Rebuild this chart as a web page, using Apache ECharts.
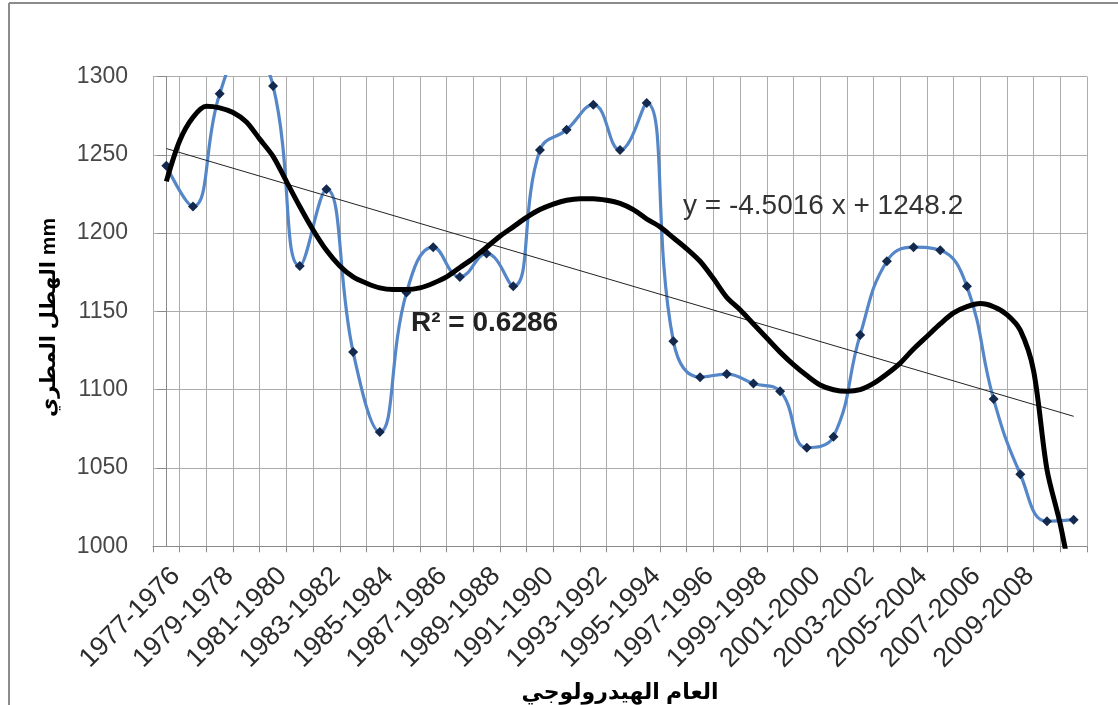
<!DOCTYPE html>
<html>
<head>
<meta charset="utf-8">
<script src="https://cdn.jsdelivr.net/npm/echarts@6/dist/echarts.min.js"></script>
<style>
  html, body { margin: 0; padding: 0; background: #ffffff; }
  #chart { width: 1118px; height: 705px; }
</style>
</head>
<body>
<div id="chart"></div>
<script>
// Hydrological years (x categories)
const categories = [
  '1977-1976', '1978-1977', '1979-1978', '1980-1979', '1981-1980',
  '1982-1981', '1983-1982', '1984-1983', '1985-1984', '1986-1985',
  '1987-1986', '1988-1987', '1989-1988', '1990-1989', '1991-1990',
  '1992-1991', '1993-1992', '1994-1993', '1995-1994', '1996-1995',
  '1997-1996', '1998-1997', '1999-1998', '2000-1999', '2001-2000',
  '2002-2001', '2003-2002', '2004-2003', '2005-2004', '2006-2005',
  '2007-2006', '2008-2007', '2009-2008', '2010-2009', '2011-2010'
];

// Annual rainfall (mm)
const rainfall = [
  1243, 1217, 1289, 1320, 1294, 1179, 1228, 1124, 1073, 1162,
  1191, 1172, 1187, 1166, 1253, 1266, 1282, 1253, 1283, 1131,
  1108, 1110, 1104, 1099, 1063, 1070, 1135, 1182, 1191, 1189,
  1166, 1094, 1046, 1016, 1017
];

// Polynomial trend curve: [year position, mm]
const polyTrend = [
  [0, 1233], [0.5, 1259], [1, 1274], [1.5, 1281], [2, 1280], [2.5, 1277],
  [3, 1271], [3.5, 1260], [4, 1249], [4.5, 1233], [5, 1217], [5.5, 1202],
  [6, 1189], [6.5, 1179], [7, 1172], [7.5, 1168], [8, 1165], [8.5, 1164],
  [9, 1164], [9.5, 1165], [10, 1168], [10.5, 1172], [11, 1178], [11.5, 1184],
  [12, 1191], [12.5, 1198], [13, 1204], [13.5, 1210], [14, 1215], [14.5, 1218.5],
  [15, 1221], [15.5, 1222], [16, 1222], [16.5, 1221], [17, 1219], [17.5, 1215],
  [18, 1209], [18.5, 1204], [19, 1197], [19.5, 1190], [20, 1182], [20.5, 1171],
  [21, 1159], [21.5, 1151], [22, 1142], [22.5, 1133], [23, 1124], [23.5, 1116],
  [24, 1109], [24.5, 1103], [25, 1100], [25.5, 1099], [26, 1100], [26.5, 1104],
  [27, 1110], [27.5, 1117], [28, 1126], [28.5, 1134], [29, 1142], [29.5, 1149],
  [30, 1153], [30.5, 1155], [31, 1153], [31.5, 1148], [32, 1138], [32.5, 1112],
  [33, 1049], [33.5, 1014], [34, 970]
];

// Linear trend: [year position, mm] at both ends
const linearTrend = [[0, 1254], [34, 1083]];

// Y axis scale
const yMin = 1000;
const yMax = 1300;
const yStep = 50;

// Text
const yAxisTitle = 'الهطل المطري mm';
const xAxisTitle = 'العام الهيدرولوجي';
const equationText = 'y = -4.5016 x + 1248.2';
const r2Text = 'R² = 0.6286';

const FONT = '"Liberation Sans", Arial, "DejaVu Sans", sans-serif';
const GRID_COLOR = '#acacac';
const AXIS_COLOR = '#8a8a8a';

const chart = echarts.init(document.getElementById('chart'), null, { renderer: 'canvas' });

const lastIdx = categories.length - 1;

chart.setOption({
  backgroundColor: '#ffffff',
  animation: false,
  grid: {
    left: 153,
    right: 31,
    top: 76.5,
    bottom: 158.7,
    containLabel: false,
    outerBoundsMode: 'none'
  },
  xAxis: [
    {
      type: 'category',
      data: categories,
      boundaryGap: true,
      axisLine: { show: true, lineStyle: { color: AXIS_COLOR, width: 1 } },
      axisTick: { show: true, interval: 0, length: 6, lineStyle: { color: AXIS_COLOR } },
      splitLine: { show: true, interval: 0, lineStyle: { color: GRID_COLOR, width: 1 } },
      axisLabel: {
        interval: function (index) { return index % 2 === 0 && index < lastIdx - 1; },
        rotate: 45,
        margin: 16,
        align: 'right',
        verticalAlign: 'top',
        color: '#2b2b2b',
        fontFamily: FONT,
        fontSize: 27,
        hideOverlap: false
      },
      name: xAxisTitle,
      nameLocation: 'middle',
      nameGap: 136,
      nameTextStyle: {
        color: '#000000',
        fontFamily: FONT,
        fontSize: 22,
        fontWeight: 'bold'
      }
    },
    {
      // position axis for the trend lines, aligned with category centres
      type: 'value',
      min: -0.5,
      max: lastIdx + 0.5,
      show: false,
      splitLine: { show: false }
    }
  ],
  yAxis: {
    type: 'value',
    min: yMin,
    max: yMax,
    interval: yStep,
    axisLine: { show: true, lineStyle: { color: AXIS_COLOR, width: 1 } },
    axisTick: { show: true, length: 9, lineStyle: { color: AXIS_COLOR } },
    splitLine: { show: true, lineStyle: { color: GRID_COLOR, width: 1 } },
    axisLabel: {
      margin: 25,
      color: '#474747',
      fontFamily: FONT,
      fontSize: 23,
      formatter: function (v) { return String(v); }
    },
    name: yAxisTitle,
    nameLocation: 'middle',
    nameRotate: 90,
    nameGap: 93,
    nameTextStyle: {
      color: '#000000',
      fontFamily: FONT,
      fontSize: 21,
      fontWeight: 'bold',
      padding: [0, 12, 0, 0]
    }
  },
  series: [
    {
      name: 'rainfall',
      type: 'line',
      xAxisIndex: 0,
      data: rainfall,
      smooth: 0.45,
      clip: true,
      symbol: 'diamond',
      symbolSize: 10,
      showSymbol: true,
      itemStyle: { color: '#13294d' },
      lineStyle: { color: '#5587c8', width: 3.2 },
      z: 2
    },
    {
      name: 'linear trend',
      type: 'line',
      xAxisIndex: 1,
      data: linearTrend,
      clip: true,
      symbol: 'none',
      lineStyle: { color: '#222222', width: 1 },
      z: 3
    },
    {
      name: 'poly trend',
      type: 'line',
      xAxisIndex: 1,
      data: polyTrend,
      smooth: 0.3,
      clip: true,
      symbol: 'none',
      lineStyle: { color: '#000000', width: 5 },
      z: 4
    }
  ],
  graphic: [
    {
      type: 'line',
      shape: { x1: 9, y1: 3, x2: 9, y2: 705 },
      style: { stroke: '#8c8c8c', lineWidth: 2 },
      silent: true
    },
    {
      type: 'line',
      shape: { x1: 9, y1: 3, x2: 1118, y2: 3 },
      style: { stroke: '#8c8c8c', lineWidth: 2 },
      silent: true
    },
    {
      type: 'text',
      left: 683,
      top: 192,
      z: 10,
      style: {
        text: equationText,
        fill: '#333333',
        fontFamily: FONT,
        fontSize: 28
      }
    },
    {
      type: 'text',
      left: 411,
      top: 309,
      z: 10,
      style: {
        text: r2Text,
        fill: '#222222',
        fontFamily: FONT,
        fontSize: 28,
        fontWeight: 'bold'
      }
    }
  ]
});
</script>
</body>
</html>
